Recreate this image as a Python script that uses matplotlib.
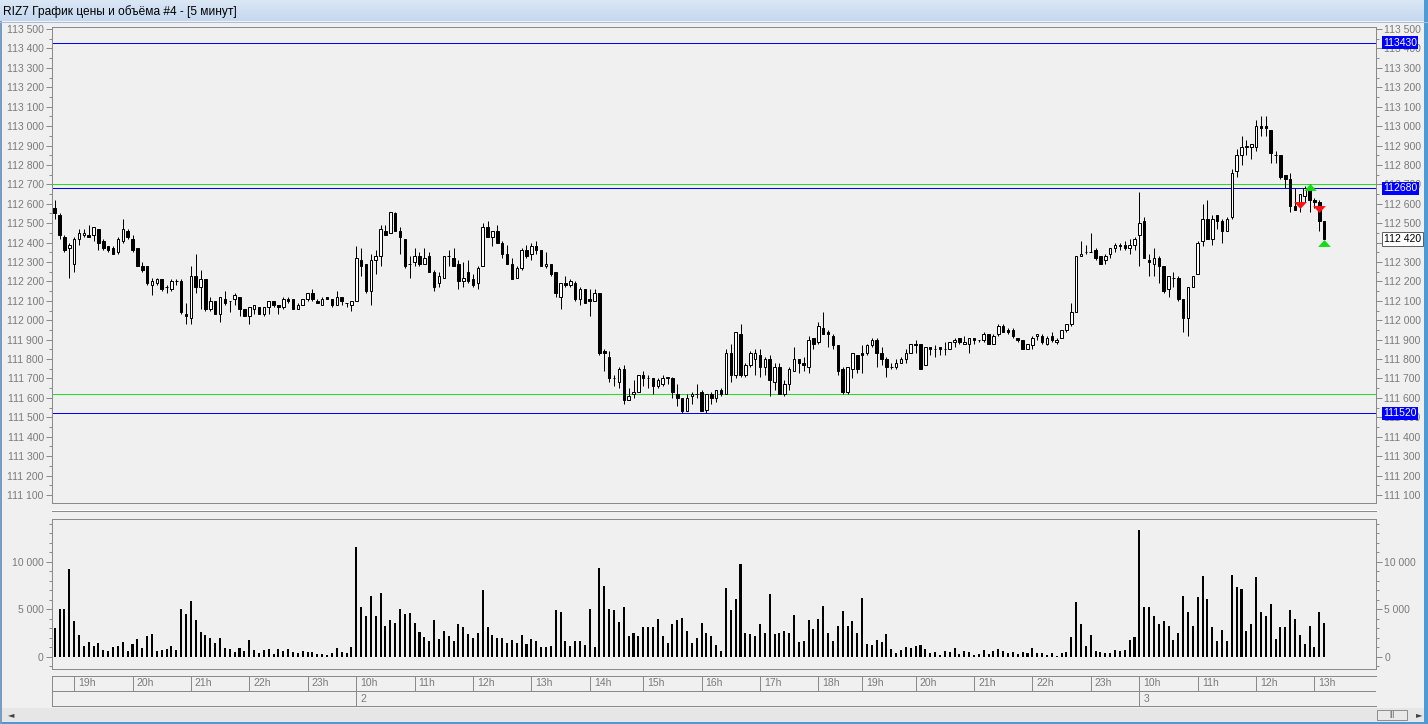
import matplotlib
matplotlib.use('Agg')
import matplotlib.pyplot as plt
import numpy as np
from matplotlib.patches import Rectangle
from matplotlib.path import Path
from matplotlib.ticker import FuncFormatter, MultipleLocator
from matplotlib.colors import LinearSegmentedColormap

plt.rcParams['font.family'] = ['Liberation Sans', 'DejaVu Sans']

title = "RIZ7 График цены и объёма #4 - [5 минут]"

opens = [112580,112540,112430,112370,112290,112420,112440,112440,112440,112470,
         112410,112380,112370,112350,112410,112460,112420,112370,112280,112280,
         112180,112190,112210,112170,112160,112200,112200,112030,112010,112230,
         112170,112210,112060,112100,112030,112110,112100,112110,112120,112060,
         112020,112060,112070,112030,112070,112100,112080,112070,112110,112110,
         112060,112080,112110,112140,112100,112080,112120,112110,112080,112120,
         112090,112080,112100,112310,112290,112150,112310,112330,112460,112450,
         112550,112460,112420,112290,112300,112330,112290,112330,112250,112190,
         112220,112330,112320,112290,112200,112250,112210,112190,112280,112480,
         112430,112460,112400,112340,112290,112220,112270,112360,112340,112380,
         112360,112280,112290,112250,112120,112190,112180,112190,112110,112160,
         112110,112100,112140,111840,111810,111700,111680,111750,111590,111620,
         111630,111720,111700,111700,111660,111670,111700,111700,111620,111600,
         111530,111610,111620,111630,111540,111620,111600,111640,111620,111830,
         111720,111930,111720,111770,111800,111820,111760,111800,111680,111760,
         111620,111670,111740,111800,111780,111760,111910,111890,111960,111940,
         111920,111870,111750,111630,111750,111820,111830,111830,111870,111900,
         111830,111800,111760,111760,111780,111800,111830,111880,111880,111770,
         111860,111850,111860,111850,111850,111890,111910,111880,111880,111910,
         111900,111900,111930,111880,111930,111970,111950,111950,111910,111900,
         111850,111870,111920,111920,111880,111920,111890,111910,111950,111980,
         112040,112330,112350,112350,112360,112330,112310,112340,112370,112390,
         112390,112370,112390,112440,112510,112310,112290,112320,112280,112160,
         112220,112220,112110,112010,112170,112240,112410,112520,112420,112540,
         112510,112460,112530,112770,112850,112890,112890,112890,113000,113000,
         112980,112850,112850,112750,112730,112590,112590,112640,112670,112620,
         112610,112510]
highs = [112620,112550,112440,112400,112430,112470,112470,112490,112480,112470,
         112420,112380,112380,112430,112520,112470,112440,112370,112300,112280,
         112220,112220,112210,112180,112210,112210,112210,112090,112280,112340,
         112260,112210,112120,112100,112120,112150,112100,112140,112120,112060,
         112070,112080,112070,112070,112100,112100,112080,112120,112120,112110,
         112090,112110,112140,112160,112110,112120,112120,112110,112150,112120,
         112090,112100,112380,112370,112290,112340,112360,112490,112490,112560,
         112560,112480,112420,112330,112370,112350,112370,112350,112260,112250,
         112330,112360,112370,112310,112300,112310,112240,112280,112500,112510,
         112460,112490,112410,112390,112320,112280,112370,112390,112400,112410,
         112360,112350,112290,112250,112190,112230,112210,112200,112170,112160,
         112160,112160,112140,111850,111840,111720,111760,111770,111650,111690,
         111720,111740,111720,111700,111700,111720,111710,111710,111670,111600,
         111620,111630,111670,111640,111620,111630,111640,111650,111850,111880,
         111940,111980,111780,111840,111850,111850,111810,111820,111780,111780,
         111690,111760,111860,111800,111810,111920,111910,111990,112040,111950,
         111930,111870,111760,111760,111830,111820,111870,111880,111910,111910,
         111860,111810,111780,111800,111810,111850,111880,111900,111880,111860,
         111860,111870,111860,111890,111890,111910,111910,111920,111910,111910,
         111900,111940,111930,111930,111980,111980,111960,111960,111910,111900,
         111880,111920,111930,111930,111920,111940,111910,111950,111980,112090,
         112330,112410,112390,112450,112370,112330,112340,112370,112400,112400,
         112410,112420,112430,112660,112530,112340,112370,112330,112280,112230,
         112250,112230,112110,112170,112230,112410,112600,112620,112540,112540,
         112520,112530,112780,112880,112950,112930,112910,113030,113050,113050,
         112980,112870,112850,112750,112760,112680,112650,112690,112700,112630,
         112620,112510]
lows = [112520,112420,112350,112220,112250,112390,112430,112430,112410,112360,
        112360,112350,112340,112340,112400,112420,112350,112280,112250,112180,
        112130,112180,112150,112140,112150,112180,112030,111980,111980,112140,
        112060,112050,112050,112030,111990,112080,112040,112080,112020,112020,
        111980,112030,112030,112020,112030,112070,112030,112060,112090,112060,
        112060,112080,112100,112100,112090,112080,112110,112070,112080,112080,
        112070,112050,112100,112230,112140,112080,112240,112280,112440,112450,
        112460,112340,112270,112220,112280,112280,112290,112250,112150,112170,
        112220,112280,112280,112160,112170,112190,112170,112160,112280,112430,
        112380,112400,112320,112290,112210,112220,112260,112320,112310,112340,
        112280,112270,112230,112120,112060,112170,112170,112100,112080,112090,
        112020,112100,111820,111740,111680,111660,111650,111570,111590,111600,
        111630,111660,111650,111620,111650,111660,111670,111600,111560,111520,
        111530,111570,111600,111530,111520,111570,111580,111610,111620,111680,
        111700,111710,111710,111760,111720,111710,111720,111610,111640,111620,
        111610,111640,111740,111730,111740,111730,111850,111880,111930,111860,
        111850,111720,111620,111620,111700,111730,111730,111820,111860,111760,
        111770,111710,111750,111750,111780,111780,111830,111830,111750,111770,
        111820,111810,111820,111820,111850,111860,111880,111880,111830,111880,
        111890,111890,111880,111880,111920,111940,111930,111910,111890,111850,
        111850,111850,111900,111880,111870,111890,111880,111910,111940,111970,
        112040,112330,112340,112350,112310,112290,112290,112320,112350,112360,
        112360,112340,112360,112280,112320,112230,112230,112190,112140,112120,
        112170,112100,111940,111920,112170,112240,112380,112420,112390,112470,
        112400,112460,112520,112740,112800,112850,112830,112870,112950,112950,
        112810,112810,112730,112680,112560,112570,112560,112610,112560,112580,
        112460,112420]
closes = [112550,112440,112360,112390,112420,112450,112450,112430,112480,112400,
          112370,112360,112340,112420,112470,112430,112360,112280,112260,112190,
          112200,112210,112160,112170,112200,112200,112040,112020,112230,112170,
          112210,112060,112100,112030,112120,112090,112100,112130,112060,112020,
          112070,112080,112030,112070,112100,112080,112070,112110,112100,112060,
          112080,112110,112140,112110,112090,112110,112110,112080,112120,112100,
          112090,112100,112320,112280,112150,112310,112330,112470,112440,112560,
          112460,112430,112280,112290,112330,112290,112320,112250,112170,112230,
          112330,112330,112280,112200,112220,112200,112180,112270,112480,112430,
          112460,112400,112340,112290,112210,112270,112360,112330,112380,112360,
          112280,112290,112240,112140,112190,112180,112200,112110,112160,112090,
          112100,112140,111830,111830,111700,111700,111750,111590,111610,111630,
          111720,111700,111700,111660,111690,111700,111710,111630,111600,111530,
          111600,111620,111620,111530,111620,111600,111640,111620,111830,111720,
          111940,111720,111770,111830,111830,111760,111800,111690,111760,111620,
          111670,111750,111800,111780,111770,111900,111880,111970,111930,111930,
          111870,111740,111630,111760,111830,111750,111820,111870,111900,111830,
          111800,111760,111760,111780,111800,111830,111880,111870,111750,111860,
          111850,111850,111850,111850,111890,111900,111890,111890,111910,111900,
          111900,111930,111880,111920,111970,111940,111940,111920,111900,111850,
          111880,111910,111930,111890,111910,111900,111900,111950,111980,112040,
          112330,112340,112350,112350,112320,112290,112330,112370,112390,112380,
          112370,112390,112420,112500,112320,112300,112320,112280,112150,112230,
          112220,112110,112010,112170,112230,112400,112520,112420,112520,112510,
          112460,112520,112760,112850,112890,112900,112910,113000,112990,112990,
          112860,112850,112740,112730,112590,112570,112650,112680,112620,112610,
          112510,112420]
volumes = [3050,5070,5070,9220,3790,2300,1130,1560,1130,1450,
           710,600,1030,1130,1560,600,1350,1880,920,2200,
           2410,600,710,820,1130,710,5070,4540,5820,3900,
           2620,2300,1990,1450,1990,920,820,500,920,600,
           1770,710,390,710,820,280,820,600,820,500,
           390,600,500,500,280,280,180,390,920,500,
           390,1030,11560,5280,4330,6450,4330,6670,3260,3900,
           3580,5070,4540,4650,3580,2620,2090,1670,3900,1880,
           2730,2200,1670,3480,3160,2410,1990,2520,6990,3160,
           2300,1990,1990,1450,1770,1450,2300,1350,1880,1670,
           1030,1030,1170,4890,4680,1700,1170,1700,1700,1280,
           5000,1060,9360,7450,5000,4890,3620,5210,2130,2450,
           2130,3090,3090,3090,3940,2230,1490,3400,3830,4040,
           2660,1490,2020,3510,2450,2230,1280,640,7230,4890,
           6060,9720,2550,2340,2230,3400,2450,6600,2340,2450,
           2660,2550,4360,1600,1700,3830,2870,3940,5320,2550,
           1700,3190,4790,3190,3720,2550,6170,1380,1280,1810,
           1600,2340,850,430,740,1060,960,1170,1280,850,
           430,530,210,640,530,960,320,640,530,210,
           320,740,320,640,850,640,430,530,320,530,
           430,960,430,350,230,350,120,350,460,2090,
           5800,3480,1160,2320,580,460,350,350,700,580,
           700,1740,2090,13350,5220,5220,4300,3480,3720,3250,
           1740,2550,6420,4760,3250,6310,8480,6040,3130,1630,
           2790,1630,8590,7310,7120,2670,3480,8360,4760,4300,
           5570,1860,3130,3130,4880,3950,2320,1390,3250,1040,
           4760,3600]

hour_labels = ['19h', '20h', '21h', '22h', '23h', '10h', '11h', '12h', '13h', '14h',
               '15h', '16h', '17h', '18h', '19h', '20h', '21h', '22h', '23h', '10h',
               '11h', '12h', '13h']
hour_pos = [4, 16, 28, 40, 52, 62, 74, 86, 98, 110, 121, 133, 145, 157, 166, 177,
            189, 201, 213, 223, 235, 247, 259]
day_labels = ['2', '3']
day_pos = [62, 223]

blue_levels = [113430, 112680, 111520]
green_levels = [112700, 111620]
last_price = 112420
sell_idx = [256, 260]
sell_price = [112592, 112572]
buy_idx = [258, 261]
buy_price = [112688, 112400]

# ---------------------------------------------------------------- layout
W, H = 1428, 724
fig = plt.figure(figsize=(W / 100, H / 100), dpi=100)
BG = '#f0f0f0'
fig.patch.set_facecolor(BG)
PX = 0.72
GRAY = '#8a8a8a'
TXT = '#7a7a7a'
FS = 7.5


def rect(x0, y0, x1, y1):
    return [x0 / W, 1 - y1 / H, (x1 - x0) / W, (y1 - y0) / H]


def prect(x0, y0, x1, y1, **kw):
    fig.add_artist(Rectangle((x0 / W, 1 - y1 / H), (x1 - x0) / W, (y1 - y0) / H,
                             transform=fig.transFigure, **kw))


def hline(x0, x1, y, color, lw=PX):
    fig.add_artist(plt.Line2D([x0 / W, x1 / W], [1 - y / H, 1 - y / H],
                              transform=fig.transFigure, color=color, lw=lw))


LFT, RGT = 52.3, 1376.0
ax = fig.add_axes(rect(LFT, 27.3, RGT, 502.7))
axv = fig.add_axes(rect(LFT, 518.5, RGT, 669.3))
axt = fig.add_axes(rect(LFT, 675.7, RGT, 706.3))

n = len(opens)
idx = np.arange(n)
XLIM = (-0.49, 271.65)

fmt = FuncFormatter(lambda v, p: f"{int(round(v)):,}".replace(',', ' '))

for a in (ax, axv):
    a.set_facecolor(BG)
    a.set_xlim(XLIM)
    a.set_xticks([])
    for s in a.spines.values():
        s.set_color(GRAY)
        s.set_linewidth(PX)
    a.tick_params(axis='y', which='both', left=True, right=True, labelleft=True,
                  labelright=True, direction='out', color=GRAY, labelcolor=TXT,
                  labelsize=FS, width=PX)
    a.tick_params(axis='y', which='major', length=4.3, pad=1.8)
    a.tick_params(axis='y', which='minor', length=2.2)
    a.yaxis.set_major_formatter(fmt)

# ---------------------------------------------------------------- price panel
ax.set_ylim(111060, 113509)
ax.yaxis.set_major_locator(MultipleLocator(100))
ax.yaxis.set_minor_locator(MultipleLocator(50))

for p in blue_levels:
    ax.axhline(p, color='#0000ff', lw=PX, zorder=2)
for p in green_levels:
    ax.axhline(p, color='#22dd22', lw=PX, zorder=2)

ax.vlines(idx, lows, highs, color='black', lw=PX, zorder=3)
bw = 0.52
for i in range(n):
    o, c = opens[i], closes[i]
    lo, hi = min(o, c), max(o, c)
    fc = 'black' if c < o else 'white'
    ax.add_patch(Rectangle((i - bw / 2, lo), bw, hi - lo, facecolor=fc,
                           edgecolor='black', lw=PX, zorder=4))

tri_down = Path([(-1, 0.54), (1, 0.54), (0, -0.54), (-1, 0.54)],
                [Path.MOVETO, Path.LINETO, Path.LINETO, Path.CLOSEPOLY])
tri_up = Path([(-1, -0.54), (1, -0.54), (0, 0.54), (-1, -0.54)],
              [Path.MOVETO, Path.LINETO, Path.LINETO, Path.CLOSEPOLY])
ax.plot(sell_idx, sell_price, ls='none', marker=tri_down, markersize=9.2,
        color='#ff1010', markeredgewidth=0, zorder=6)
ax.plot(buy_idx, buy_price, ls='none', marker=tri_up, markersize=9.2,
        color='#10e010', markeredgewidth=0, zorder=6)

xoff = 1 + 7.0 / (RGT - LFT)
for p in blue_levels:
    ax.text(xoff, p, f"{p}", transform=ax.get_yaxis_transform(), ha='left',
            va='center', color='white', fontsize=FS, zorder=10, clip_on=False,
            bbox=dict(boxstyle='square,pad=0.14', fc='#0000ff', ec='none'))
ax.text(1 + 8.0 / (RGT - LFT), last_price, fmt(last_price, None),
        transform=ax.get_yaxis_transform(), ha='left', va='center', color='black',
        fontsize=FS, zorder=10, clip_on=False,
        bbox=dict(boxstyle='square,pad=0.2', fc='white', ec='#606060', lw=PX))

# ---------------------------------------------------------------- volume panel
axv.set_ylim(-1330, 14570)
axv.yaxis.set_major_locator(MultipleLocator(5000))
axv.yaxis.set_minor_locator(MultipleLocator(1000))
axv.bar(idx, volumes, width=0.42, color='black', zorder=3)

# ---------------------------------------------------------------- time axis
axt.set_facecolor(BG)
axt.set_xlim(XLIM)
axt.set_ylim(0, 2)
axt.set_xticks([])
axt.set_yticks([])
for k, s in axt.spines.items():
    s.set_color(GRAY)
    s.set_linewidth(PX)
axt.spines['right'].set_visible(False)
axt.axhline(1, color=GRAY, lw=PX)
axt.vlines(hour_pos, 1, 2, color=GRAY, lw=PX)
axt.vlines(day_pos, 0, 1, color=GRAY, lw=PX)
off = 4.0 / 4.864
for lab, p in zip(hour_labels, hour_pos):
    axt.text(p + off, 1.5, lab, ha='left', va='center', color=TXT, fontsize=FS)
for lab, p in zip(day_labels, day_pos):
    axt.text(p + off, 0.5, lab, ha='left', va='center', color=TXT, fontsize=FS)

# ---------------------------------------------------------------- window chrome
tb = fig.add_axes(rect(0, 0, W, 21))
grad = np.linspace(0, 1, 50)[:, None]
cm = LinearSegmentedColormap.from_list('tb', ['#dae7f5', '#c4d8ef'])
tb.imshow(grad, aspect='auto', cmap=cm, extent=(0, 1, 0, 1))
tb.set_axis_off()
tb.text(0.002, 0.45, title, transform=tb.transAxes, ha='left', va='center',
        color='black', fontsize=8.6)
hline(0, W, 21.5, '#a9bfd8')

# splitter between panels
hline(LFT, RGT, 509.5, 'white')
hline(LFT, RGT, 511.3, GRAY)

# scrollbar
prect(0, 708, W, 722, facecolor='#e6e6e6', edgecolor='none')
fig.text(8 / W, 1 - 715 / H, '◄', fontsize=6, color='#404040', ha='left',
         va='center', family='DejaVu Sans')
prect(1377, 709.5, 1407, 719.5, facecolor='#e9e9e9', edgecolor='#8f8f8f', lw=PX)
fig.text(1392 / W, 1 - 714.5 / H, '|||', fontsize=5, color='#606060', ha='center',
         va='center')
fig.text(1416 / W, 1 - 715 / H, '►', fontsize=6, color='#404040', ha='left',
         va='center', family='DejaVu Sans')

# window borders
prect(1424, 0, W, H, facecolor='#4d9bd6', edgecolor='none')
prect(0, 722, W, H, facecolor='#4d9bd6', edgecolor='none')
prect(0, 21, 1.5, H, facecolor='#7a9cc4', edgecolor='none')

fig.savefig('out.png', dpi=100, facecolor=BG)
